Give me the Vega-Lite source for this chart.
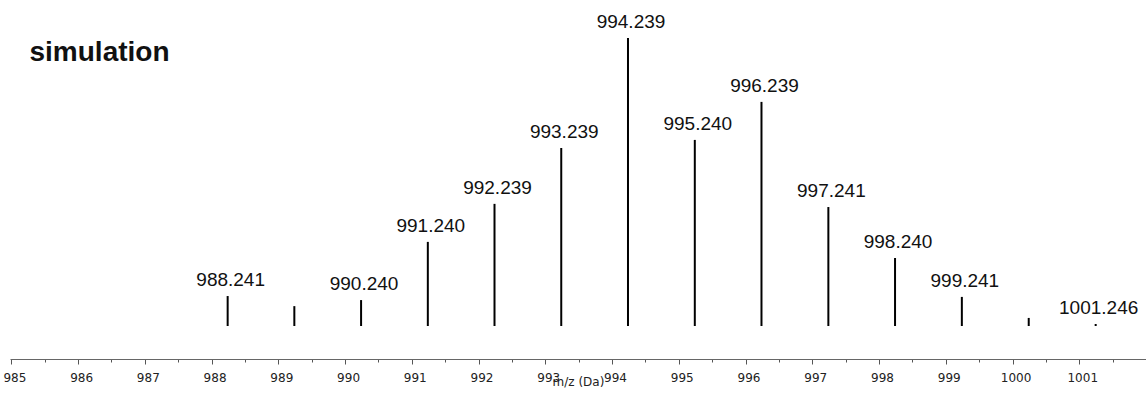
{
  "$schema": "https://vega.github.io/schema/vega-lite/v6.json",
  "width": 1136,
  "height": 316,
  "autosize": {"type": "none"},
  "padding": {"left": 10, "top": 10, "right": 0, "bottom": 70},
  "background": "white",
  "config": {"view": {"stroke": null}},
  "title": {"text": "m/z (Da)", "orient": "top", "anchor": "middle", "frame": "group", "font": "DejaVu Sans", "fontSize": 12, "fontWeight": "normal", "color": "#111", "baseline": "alphabetic", "offset": 3},
  "data": {"values": [
    {"mz": 988.241, "intensity": 10.4, "label": "988.241"},
    {"mz": 989.240, "intensity": 6.9, "label": ""},
    {"mz": 990.240, "intensity": 9.0, "label": "990.240"},
    {"mz": 991.240, "intensity": 29.2, "label": "991.240"},
    {"mz": 992.239, "intensity": 42.4, "label": "992.239"},
    {"mz": 993.239, "intensity": 61.8, "label": "993.239"},
    {"mz": 994.239, "intensity": 100, "label": "994.239"},
    {"mz": 995.240, "intensity": 64.6, "label": "995.240"},
    {"mz": 996.239, "intensity": 77.8, "label": "996.239"},
    {"mz": 997.241, "intensity": 41.3, "label": "997.241"},
    {"mz": 998.240, "intensity": 23.6, "label": "998.240"},
    {"mz": 999.241, "intensity": 10.1, "label": "999.241"},
    {"mz": 1000.243, "intensity": 2.8, "label": ""},
    {"mz": 1001.246, "intensity": 0.7, "label": "1001.246"}
  ]},
  "encoding": {
    "x": {
      "field": "mz", "type": "quantitative",
      "scale": {"domain": [984.98, 1002.0], "nice": false, "zero": false},
      "axis": {
        "title": "m/z (Da)", "orient": "bottom", "offset": 33, "grid": false,
        "values": [985, 985.5, 986, 986.5, 987, 987.5, 988, 988.5, 989, 989.5, 990, 990.5, 991, 991.5, 992, 992.5, 993, 993.5, 994, 994.5, 995, 995.5, 996, 996.5, 997, 997.5, 998, 998.5, 999, 999.5, 1000, 1000.5, 1001, 1001.5],
        "labelExpr": "datum.value % 1 === 0 ? format(datum.value, 'd') : ''",
        "tickSize": {"condition": {"test": "datum.value % 1 !== 0", "value": 3}, "value": 5},
        "domainColor": "#666", "tickColor": "#555", "domainWidth": 1, "tickWidth": 1,
        "labelFont": "DejaVu Sans", "labelFontSize": 12, "labelColor": "#222",
        "labelPadding": 8, "labelOffset": 3, "labelOverlap": false, "labelFlush": false,
        "titleFont": "DejaVu Sans", "titleFontSize": 12, "titleFontWeight": "normal", "titleColor": "#222",
        "titleY": 17, "titleBaseline": "top"
      }
    }
  },
  "layer": [
    {
      "mark": {"type": "rule", "color": "black", "strokeWidth": 2},
      "encoding": {
        "y": {"field": "intensity", "type": "quantitative", "scale": {"domain": [0, 109.7], "nice": false},
          "axis": {"title": "simulation", "domain": false, "ticks": false, "labels": false, "grid": false,
            "titleAngle": 0, "titleAlign": "left", "titleBaseline": "alphabetic", "titleX": 19, "titleY": 50,
            "titleFont": "Liberation Sans", "titleFontSize": 28, "titleFontWeight": "bold", "titleColor": "#111"}},
        "y2": {"datum": 0}
      }
    },
    {
      "mark": {"type": "text", "font": "Liberation Sans", "fontSize": 19, "color": "#111", "baseline": "alphabetic", "dy": -10, "dx": 3},
      "encoding": {
        "y": {"field": "intensity", "type": "quantitative"},
        "text": {"field": "label"}
      }
    }
  ]
}
